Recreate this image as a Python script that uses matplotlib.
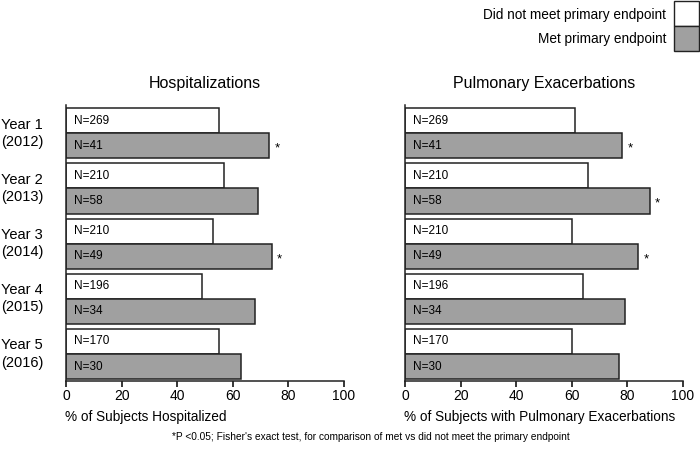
import matplotlib
matplotlib.use("Agg")
import matplotlib.pyplot as plt
from matplotlib.patches import Rectangle

plt.rcParams['font.family'] = ['Liberation Sans', 'DejaVu Sans']

years = ["Year 1\n(2012)", "Year 2\n(2013)", "Year 3\n(2014)", "Year 4\n(2015)", "Year 5\n(2016)"]
n_not_met = [269, 210, 210, 196, 170]
n_met = [41, 58, 49, 34, 30]
hosp_not_met = [55, 57, 53, 49, 55]
hosp_met = [73, 69, 74, 68, 63]
hosp_sig = [True, False, True, False, False]
pulm_not_met = [61, 66, 60, 64, 60]
pulm_met = [78, 88, 84, 79, 77]
pulm_sig = [True, True, True, False, False]
xticks = [0, 20, 40, 60, 80, 100]

GREY = '#a0a0a0'
EDGE = '#222222'

fig = plt.figure(figsize=(7, 4.5), dpi=100)
ax1 = fig.add_axes([0.0943, 0.1533, 0.397, 0.613])
ax2 = fig.add_axes([0.5786, 0.1533, 0.397, 0.613])

h = 0.4545
def draw(ax, notmet, met, sig, title, xlabel):
    idx = range(len(notmet))
    yw = [i - h / 2 for i in idx]
    yg = [i + h / 2 for i in idx]
    ax.barh(yw, notmet, height=h, color='white', edgecolor=EDGE, linewidth=1.1)
    ax.barh(yg, met, height=h, color=GREY, edgecolor=EDGE, linewidth=1.1)
    for i in idx:
        ax.text(3, yw[i], f"N={n_not_met[i]}", va='center', ha='left', fontsize=8.5)
        ax.text(3, yg[i], f"N={n_met[i]}", va='center', ha='left', fontsize=8.5)
        if sig[i]:
            ax.text(met[i] + 2, yg[i] + 0.05, "*", va='center', ha='left', fontsize=9.5)
    ax.set_xlim(0, 100)
    ax.set_ylim(4.49, -0.51)
    ax.set_xticks(xticks)
    ax.tick_params(axis='x', labelsize=10, length=4, width=1.1, direction='out', pad=2)
    ax.set_yticks([])
    for s in ['top', 'right']:
        ax.spines[s].set_visible(False)
    for s in ['left', 'bottom']:
        ax.spines[s].set_linewidth(1.1)
        ax.spines[s].set_color(EDGE)
    ax.set_title(title, fontsize=11.5, pad=12)
    ax.text(-0.005, -0.13, xlabel, transform=ax.transAxes, fontsize=9.8, ha='left', va='center')

draw(ax1, hosp_not_met, hosp_met, hosp_sig, "Hospitalizations", "% of Subjects Hospitalized")
draw(ax2, pulm_not_met, pulm_met, pulm_sig, "Pulmonary Exacerbations", "% of Subjects with Pulmonary Exacerbations")

for i, lab in enumerate(years):
    ax1.text(-0.235, i, lab, transform=ax1.get_yaxis_transform(), ha='left', va='center',
             fontsize=10.5, linespacing=1.3)

# legend
fig.text(666 / 700, 1 - 15 / 450, "Did not meet primary endpoint", ha='right', va='center', fontsize=9.8)
fig.text(666 / 700, 1 - 39 / 450, "Met primary endpoint", ha='right', va='center', fontsize=9.8)
fig.patches.append(Rectangle((674 / 700, 1 - 26 / 450), 25 / 700, 25 / 450, transform=fig.transFigure,
                             facecolor='white', edgecolor=EDGE, linewidth=1.0))
fig.patches.append(Rectangle((674 / 700, 1 - 51 / 450), 25 / 700, 25 / 450, transform=fig.transFigure,
                             facecolor=GREY, edgecolor=EDGE, linewidth=1.0))

fig.text(371 / 700, 1 - 437 / 450,
         "*P <0.05; Fisher's exact test, for comparison of met vs did not meet the primary endpoint",
         ha='center', va='center', fontsize=7.3)

fig.savefig("out.png", dpi=100)
